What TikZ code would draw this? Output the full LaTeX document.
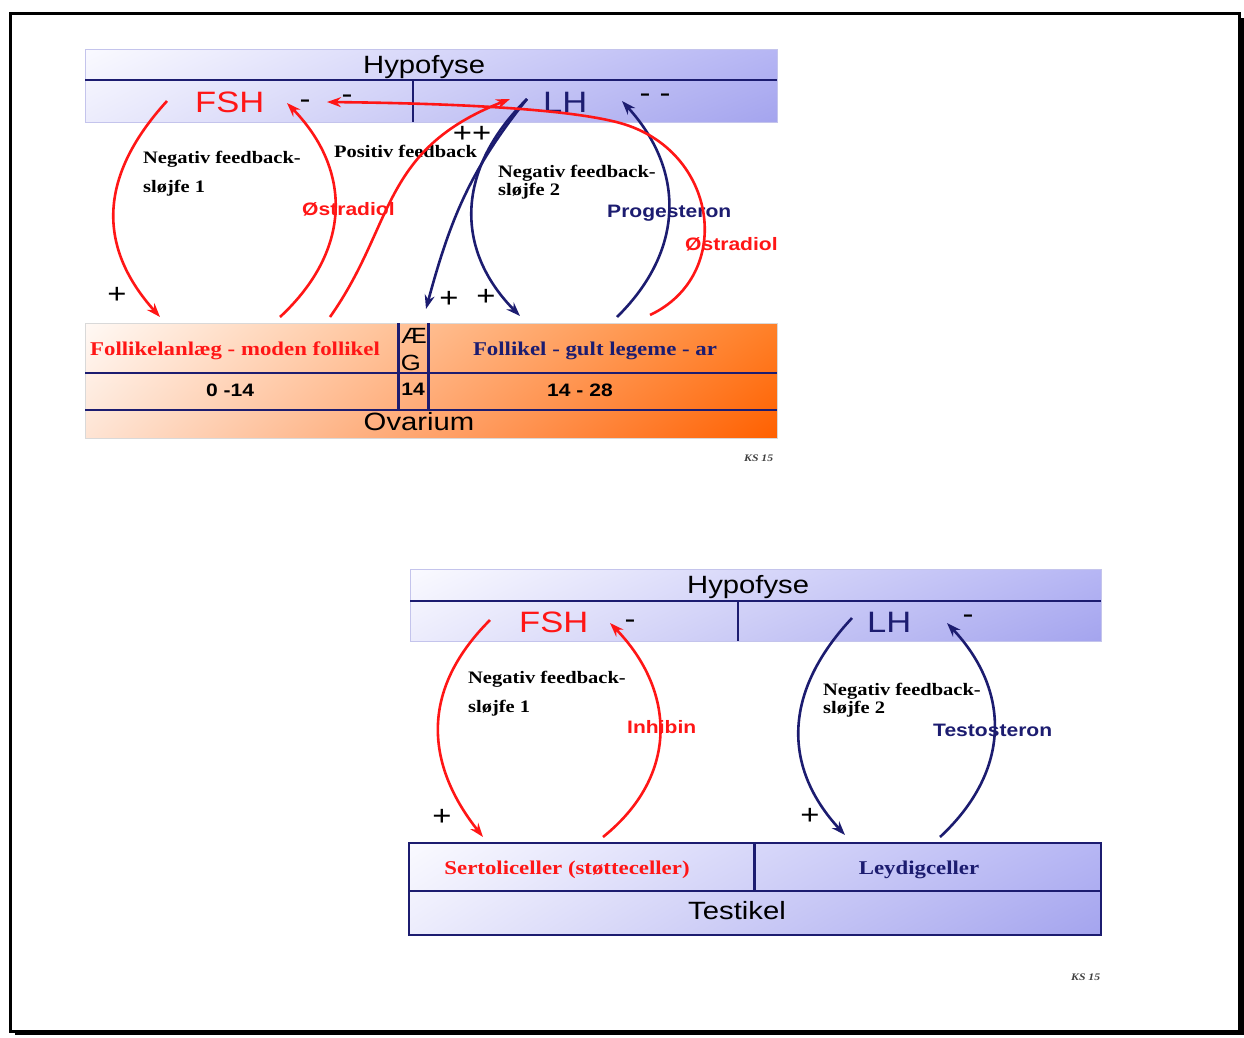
\documentclass[tikz,border=0pt]{standalone}
\usepackage{fontspec}
\setmainfont{Liberation Serif}[FakeStretch=1.17]
\newfontfamily\sansf{Liberation Sans}[FakeStretch=1.17]
\usetikzlibrary{arrows.meta,shadings}
\definecolor{navy}{RGB}{28,28,112}
\definecolor{hred}{RGB}{255,22,22}
\definecolor{lavUL}{RGB}{250,250,255}
\definecolor{lavLL}{RGB}{236,236,252}
\definecolor{lavUR}{RGB}{182,182,244}
\definecolor{lavLR}{RGB}{164,164,238}
\definecolor{lavB}{RGB}{196,196,236}
\definecolor{orUL}{RGB}{255,249,245}
\definecolor{orLL}{RGB}{254,228,212}
\definecolor{orUR}{RGB}{255,128,40}
\definecolor{orLR}{RGB}{255,96,0}
\begin{document}
\begin{tikzpicture}[x=1pt,y=-1pt,
  big/.style={font=\sansf\fontsize{25}{25}\selectfont, inner sep=0, anchor=base west},
  hormone/.style={font=\sansf\fontsize{29.5}{30}\selectfont, inner sep=0, anchor=base west},
  lbl/.style={font=\bfseries\fontsize{17.5}{20}\selectfont, inner sep=0, anchor=base west},
  hlbl/.style={font=\sansf\bfseries\fontsize{18}{18}\selectfont, inner sep=0, anchor=base west},
  sign/.style={font=\sansf\fontsize{28}{28}\selectfont, inner sep=0, anchor=base},
  cell/.style={font=\bfseries\fontsize{19.5}{20}\selectfont, inner sep=0, anchor=base},
  num/.style={font=\sansf\bfseries\fontsize{18}{18}\selectfont, inner sep=0, anchor=base},
  small/.style={font=\sansf\fontsize{22}{22}\selectfont, inner sep=0, anchor=base},
  sig/.style={font=\bfseries\itshape\fontsize{10}{10}\selectfont, inner sep=0, anchor=base west, text=black!75},
  rarr/.style={hred, line width=2.6pt, -{Stealth[length=14pt,width=10pt]}},
  narr/.style={navy, line width=2.6pt, -{Stealth[length=14pt,width=10pt]}},
  divl/.style={navy, line width=2.8pt},
  lavshade/.style={upper left=lavUL, lower left=lavLL, upper right=lavUR, lower right=lavLR},
]
\useasboundingbox (0,0) rectangle (1244,1037);
% frame with shadow
\fill[black] (15,18) rectangle (1243.5,1035);
\fill[white] (10.5,13.5) rectangle (1239.5,1031);
\draw[line width=3pt] (10.5,13.5) rectangle (1239.5,1031);

% ================= TOP: Hypofyse =================
\shade[lavshade] (85,49) rectangle (777,122);
\draw[lavB, line width=1pt] (85,49) rectangle (777,122);
\draw[divl] (85,80) -- (777,80);
\draw[divl] (413,80) -- (413,122);
\node[big] (hyp1) at (363,73) {Hypofyse};
\node[hormone, text=hred] (fsh1) at (195,112) {FSH};
\node[hormone, text=navy] (lh1) at (543,112) {LH};
\node[sign] (m1) at (305,108.5) {-};
\node[sign] (m2) at (347,103.5) {-};
\node[sign] (m3) at (655,102.5) {- -};

% ================= TOP: Ovarium =================
\shade[upper left=orUL, lower left=orLL, upper right=orUR, lower right=orLR] (85,323) rectangle (777,438);
\draw[black!15, line width=1pt] (85,323) rectangle (777,438);
\draw[divl] (85,373) -- (777,373);
\draw[divl] (85,410) -- (777,410);
\draw[divl] (398.5,323) -- (398.5,410);
\draw[divl] (428.5,323) -- (428.5,410);
\node[cell, text=hred] (fol1) at (235,355) {Follikelanlæg - moden follikel};
\node[cell, text=navy] (fol2) at (595,355) {Follikel - gult legeme - ar};
\node[small] (ae) at (414,343) {Æ};
\node[small] (gg) at (411,370) {G};
\node[num] (d1) at (230,396) {0 -14};
\node[num] (d2) at (413,395) {14};
\node[num] (d3) at (580,396) {14 - 28};
\node[big, anchor=base] (ova) at (419,430) {Ovarium};
\node[sig] (sig1) at (744,461) {KS 15};

% top labels
\node[lbl] (nf1a) at (143,163) {Negativ feedback-};
\node[lbl] (nf1b) at (143,192) {sløjfe 1};
\node[lbl] (pf) at (334,157) {Positiv feedback};
\node[lbl] (nf2a) at (498,177) {Negativ feedback-};
\node[lbl] (nf2b) at (498,195) {sløjfe 2};
\node[hlbl, text=hred] (os1) at (302,215) {Østradiol};
\node[hlbl, text=navy] (prog) at (607,217) {Progesteron};
\node[hlbl, text=hred] (os2) at (685,250) {Østradiol};
\node[sign] (pp) at (472,142) {++};
\node[sign] (p1) at (117,303) {+};
\node[sign] (p2) at (449,307) {+};
\node[sign] (p3) at (486,305) {+};

% top arrow end points
\coordinate (fshOut) at (167,101);
\coordinate (folIn) at (160,317);
\coordinate (folOut) at (280,317);
\coordinate (fshIn) at (287,103);
\coordinate (folOut2) at (330,317);
\coordinate (lhIn) at (510,99);
\coordinate (lhOut) at (527,99);
\coordinate (aegIn) at (426,309);
\coordinate (glIn) at (520,316);
\coordinate (glOut) at (617,317);
\coordinate (lhIn2) at (622,101);
\coordinate (glOut2) at (650,315);
\coordinate (bend) at (620,123);
\coordinate (fshIn2) at (327,102);

\draw[rarr] (fshOut) .. controls (95,180) and (100,250) .. (folIn);
\draw[rarr] (folOut) .. controls (352,250) and (352,170) .. (fshIn);
\draw[rarr] (folOut2) .. controls (395,225) and (380,150) .. (lhIn);
\draw[narr] (lhOut) .. controls (470,170) and (450,220) .. (aegIn);
\draw[narr] (lhOut) .. controls (455,170) and (455,250) .. (glIn);
\draw[narr] (glOut) .. controls (685,250) and (685,170) .. (lhIn2);
\draw[rarr] (glOut2) .. controls (735,275) and (718,150) .. (bend) .. controls (560,106.5) and (420,103) .. (fshIn2);

% ================= BOTTOM: Hypofyse =================
\shade[lavshade] (410,569) rectangle (1101,641);
\draw[lavB, line width=1pt] (410,569) rectangle (1101,641);
\draw[divl] (410,601) -- (1101,601);
\draw[divl] (738,601) -- (738,641);
\node[big] (hyp2) at (687,593) {Hypofyse};
\node[hormone, text=hred] (fsh2) at (519,632) {FSH};
\node[hormone, text=navy] (lh2) at (867,632) {LH};
\node[sign] (m4) at (630,628.5) {-};
\node[sign] (m5) at (968,623.5) {-};

% ================= BOTTOM: Testikel =================
\shade[lavshade] (409,843) rectangle (1101,935);
\draw[navy, line width=2.8pt] (409,843) rectangle (1101,935);
\draw[divl] (409,891) -- (1101,891);
\draw[divl] (754.5,843) -- (754.5,891);
\node[cell, text=hred] (sert) at (567,874) {Sertoliceller (støtteceller)};
\node[cell, text=navy] (leyd) at (919,874) {Leydigceller};
\node[big, anchor=base] (test) at (737,919) {Testikel};
\node[sig] (sig2) at (1071,980) {KS 15};

% bottom labels
\node[lbl] (nf3a) at (468,683) {Negativ feedback-};
\node[lbl] (nf3b) at (468,712) {sløjfe 1};
\node[lbl] (nf4a) at (823,695) {Negativ feedback-};
\node[lbl] (nf4b) at (823,713) {sløjfe 2};
\node[hlbl, text=hred] (inh) at (627,733) {Inhibin};
\node[hlbl, text=navy] (tes) at (933,736) {Testosteron};
\node[sign] (p4) at (442,825) {+};
\node[sign] (p5) at (810,824) {+};

\coordinate (fsh2Out) at (490,620);
\coordinate (sertIn) at (483,837);
\coordinate (sertOut) at (603,837);
\coordinate (fsh2In) at (610,623);
\coordinate (lh2Out) at (852,618);
\coordinate (leydIn) at (845,835);
\coordinate (leydOut) at (940,837);
\coordinate (lh2In) at (947,623);

\draw[rarr] (fsh2Out) .. controls (415,695) and (430,770) .. (sertIn);
\draw[rarr] (sertOut) .. controls (680,775) and (675,690) .. (fsh2In);
\draw[narr] (lh2Out) .. controls (780,695) and (785,770) .. (leydIn);
\draw[narr] (leydOut) .. controls (1012,770) and (1010,690) .. (lh2In);
\end{tikzpicture}
\end{document}
